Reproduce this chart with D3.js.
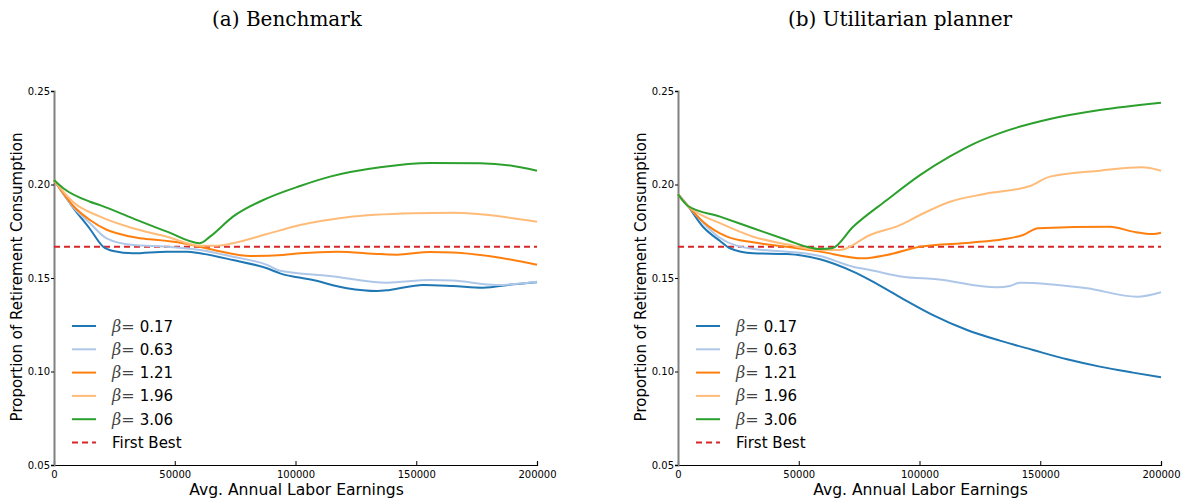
<!DOCTYPE html>
<html>
<head>
<meta charset="utf-8">
<script src="https://cdn.jsdelivr.net/npm/d3@7"></script>
<style>
  body { margin: 0; background: #fff; }
  svg { display: block; }
  .tick text { font-family: "DejaVu Sans", sans-serif; font-size: 10px; fill: #000; }
</style>
</head>
<body>
<div id="chart"></div>
<script>
// ticks and categories
const xTicks = [0, 50000, 100000, 150000, 200000]
const yTicks = [0.05, 0.10, 0.15, 0.20, 0.25]
const betaLabels = ["0.17", "0.63", "1.21", "1.96", "3.06"]
const panelTitles = ["(a) Benchmark", "(b) Utilitarian planner"]
const firstBest = 0.1667

// (a) Benchmark: [earnings, proportion]
const benchBeta017 = [[0,0.2024],[8000,0.1875],[14900,0.1762],[20400,0.1667],[24550,0.1644],[32700,0.1632],[46800,0.1641],[55100,0.1641],[60450,0.1632],[74100,0.1596],[88200,0.1552],[93600,0.1525],[107200,0.1489],[121300,0.1445],[133700,0.1430],[139100,0.1436],[152800,0.1463],[165200,0.1457],[177600,0.1448],[190100,0.1466],[200000,0.1477]]
const benchBeta063 = [[0,0.2024],[8000,0.1878],[14900,0.1793],[21800,0.1712],[32700,0.1676],[46800,0.1667],[60450,0.1650],[74100,0.1614],[88200,0.1570],[93600,0.1539],[114300,0.1511],[137900,0.1475],[155700,0.1489],[165200,0.1486],[183400,0.1463],[200000,0.1480]]
const benchBeta121 = [[0,0.2024],[8000,0.1885],[14900,0.1810],[21800,0.1758],[26100,0.1739],[35600,0.1712],[39750,0.1707],[53400,0.1686],[60450,0.1667],[67500,0.1646],[81200,0.1618],[94800,0.1623],[101900,0.1632],[117200,0.1641],[135000,0.1628],[142000,0.1625],[155700,0.1639],[165200,0.1637],[183400,0.1611],[200000,0.1571]]
const benchBeta196 = [[0,0.2024],[8000,0.1905],[19050,0.1828],[32700,0.1766],[46800,0.1721],[60450,0.1673],[67500,0.1673],[74100,0.1686],[88200,0.1735],[101900,0.1783],[121300,0.1825],[148700,0.1846],[165200,0.1849],[176400,0.1841],[200000,0.1801]]
const benchBeta306 = [[0,0.2024],[3850,0.1980],[14900,0.1908],[19050,0.1890],[32700,0.1819],[46800,0.1748],[60450,0.1686],[64600,0.1721],[74100,0.1828],[88200,0.1926],[101900,0.1992],[114300,0.2042],[135000,0.2092],[155700,0.2115],[176400,0.2113],[190100,0.2099],[200000,0.2074]]

// (b) Utilitarian planner: [earnings, proportion]
const utilBeta017 = [[0,0.1948],[4140,0.1885],[10350,0.1774],[17400,0.1698],[21500,0.1659],[31100,0.1632],[45100,0.1628],[58800,0.1600],[72500,0.1534],[79500,0.1489],[91900,0.1398],[105600,0.1302],[119700,0.1222],[133300,0.1165],[147000,0.1115],[161100,0.1065],[174700,0.1026],[188400,0.0994],[200000,0.0969]]
const utilBeta063 = [[0,0.1948],[4140,0.1885],[17400,0.1714],[31100,0.1655],[45100,0.1641],[58800,0.1618],[72500,0.1560],[79500,0.1543],[93200,0.1507],[107200,0.1493],[132100,0.1450],[137500,0.1457],[141600,0.1475],[169400,0.1445],[190100,0.1400],[200000,0.1424]]
const utilBeta121 = [[0,0.1948],[4140,0.1885],[10350,0.1801],[20300,0.1721],[31100,0.1691],[45100,0.1667],[58800,0.1641],[76600,0.1605],[86500,0.1623],[100200,0.1667],[120900,0.1689],[134600,0.1707],[142900,0.1730],[149100,0.1766],[178900,0.1774],[188400,0.1748],[196700,0.1735],[200000,0.1742]]
const utilBeta196 = [[0,0.1948],[4140,0.1885],[6200,0.1864],[17400,0.1793],[31100,0.1721],[45100,0.1680],[58800,0.1650],[67100,0.1650],[79500,0.1730],[91900,0.1783],[100200,0.1837],[112600,0.1908],[126300,0.1948],[145800,0.1992],[154000,0.2042],[174700,0.2074],[192100,0.2092],[200000,0.2074]]
const utilBeta306 = [[0,0.1948],[4140,0.1885],[17400,0.1828],[31100,0.1766],[45100,0.1703],[53400,0.1667],[58800,0.1655],[63800,0.1659],[72500,0.1774],[86500,0.1917],[100200,0.2050],[112600,0.2150],[122000,0.2215],[133300,0.2275],[154000,0.2350],[174700,0.2398],[200000,0.2437]]

const colors = ["#1f77b4", "#aec7e8", "#ff7f0e", "#ffbb78", "#2ca02c"]

const svg = d3.select("#chart").append("svg")
    .attr("width", 1187)
    .attr("height", 504)

function drawPanel(cfg) {
    const xScale = d3.scaleLinear().domain([0, 200000]).range([cfg.left, cfg.left + 483])
    const yScale = d3.scaleLinear().domain([0.05, 0.25]).range([465, 91])

    // title
    svg.append("text")
        .attr("x", cfg.titleX)
        .attr("y", 26)
        .attr("text-anchor", "middle")
        .style("font-family", "'DejaVu Serif', serif")
        .style("font-size", "20px")
        .text(cfg.title)

    // axes
    const xAxis = d3.axisBottom(xScale).tickValues(xTicks).tickFormat(d3.format("d"))
        .tickSize(-4).tickPadding(6)
    const yAxis = d3.axisLeft(yScale).tickValues(yTicks).tickFormat(d3.format(".2f"))
        .tickSize(3).tickPadding(1)

    const gx = svg.append("g").attr("transform", "translate(0,465)").call(xAxis)
    gx.select(".domain").attr("stroke", "#000").attr("stroke-width", 1.2)
    const gy = svg.append("g").attr("transform", `translate(${cfg.left},0)`).call(yAxis)
    gy.select(".domain").attr("stroke", "#808080").attr("stroke-width", 2)
    gy.selectAll(".tick line").attr("stroke", "#000")

    svg.append("text")
        .attr("x", cfg.left + 242.5)
        .attr("y", 495)
        .attr("text-anchor", "middle")
        .style("font-family", "'DejaVu Sans', sans-serif")
        .style("font-size", "15.6px")
        .text("Avg. Annual Labor Earnings")

    svg.append("text")
        .attr("transform", `translate(${cfg.left - 32.5},277) rotate(-90)`)
        .attr("text-anchor", "middle")
        .style("font-family", "'DejaVu Sans', sans-serif")
        .style("font-size", "15px")
        .text("Proportion of Retirement Consumption")

    // first best
    svg.append("line")
        .attr("x1", xScale(0)).attr("x2", xScale(200000))
        .attr("y1", yScale(firstBest)).attr("y2", yScale(firstBest))
        .attr("stroke", "#d62728").attr("stroke-width", 2)
        .attr("stroke-dasharray", "6,4")

    const line = d3.line()
        .x(d => xScale(d[0]))
        .y(d => yScale(d[1]))
        .curve(d3.curveMonotoneX)

    cfg.series.forEach(function (s, i) {
        svg.append("path")
            .datum(s)
            .attr("fill", "none")
            .attr("stroke", colors[i])
            .attr("stroke-width", 2)
            .attr("d", line)
    })

    // legend
    const lx = cfg.left + 18
    const legend = svg.append("g")
    const rows = betaLabels.concat(["First Best"])
    rows.forEach(function (lab, i) {
        const y = 326 + i * 23.3
        legend.append("line")
            .attr("x1", lx).attr("x2", lx + 24)
            .attr("y1", y).attr("y2", y)
            .attr("stroke", i < 5 ? colors[i] : "#d62728")
            .attr("stroke-width", 2)
            .attr("stroke-dasharray", i < 5 ? null : "6,4")
        const t = legend.append("text")
            .attr("x", lx + 40)
            .attr("y", y + 5.5)
            .style("font-family", "'DejaVu Sans', sans-serif")
            .style("font-size", "15px")
        if (i < 5) {
            t.append("tspan")
                .style("font-family", "'DejaVu Serif', serif")
                .style("font-style", "italic")
                .style("font-size", "16px")
                .style("fill", "#444")
                .text("β")
            t.append("tspan")
                .style("font-family", "'DejaVu Serif', serif")
                .style("font-size", "16px")
                .style("fill", "#444")
                .text("=")
            t.append("tspan").attr("dx", 5).text(lab)
        } else {
            t.text(lab)
        }
    })
}

drawPanel({
    left: 54,
    titleX: 287,
    title: panelTitles[0],
    series: [benchBeta017, benchBeta063, benchBeta121, benchBeta196, benchBeta306]
})

drawPanel({
    left: 678,
    titleX: 900,
    title: panelTitles[1],
    series: [utilBeta017, utilBeta063, utilBeta121, utilBeta196, utilBeta306]
})
</script>
</body>
</html>
